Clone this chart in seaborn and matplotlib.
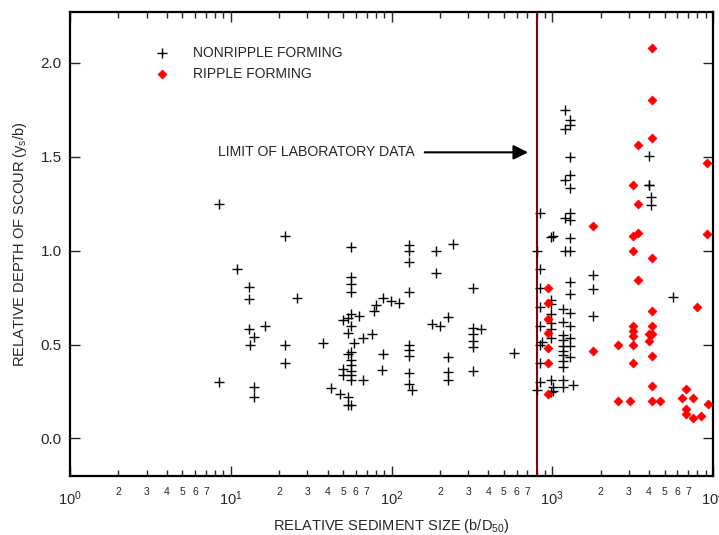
import numpy as np
import pandas as pd
import matplotlib
matplotlib.use("Agg")
import matplotlib.pyplot as plt
import matplotlib.ticker as mticker
import seaborn as sns

# ---------------- data ----------------
nonripple_x = [8.45, 8.45, 11.0, 12.9, 12.9, 12.9, 13.2, 14.0, 14.0, 14.0, 16.3,
               21.8, 21.8, 21.8, 25.9, 37.3, 41.9, 47.8,
               50.1, 50.1, 50.1, 53.8, 53.8, 53.8, 53.8, 53.8,
               56.0, 56.0, 56.0, 56.0, 56.0, 56.0, 56.0, 56.0, 56.0, 56.0, 56.0, 56.0, 56.0,
               58.7, 63.0, 66.8, 66.8, 76.0, 78.2, 80.1, 86.9, 88.9, 88.9, 99.3, 111,
               129, 129, 129, 129, 129, 129, 129, 129, 129, 135,
               179, 188, 188, 200, 224, 224, 224, 224, 241,
               321, 321, 321, 321, 321, 321, 360, 578,
               800, 805, 839, 839, 839, 839, 839, 839, 839, 839, 863,
               977, 977, 977, 977, 977, 977, 977, 977, 977,
               1016, 1016, 1016,
               1172, 1172, 1172, 1172, 1172, 1172, 1172, 1172, 1172, 1172, 1172,
               1200, 1200, 1200, 1200, 1200,
               1289, 1289, 1289, 1289, 1289, 1289, 1289, 1289, 1289, 1289, 1289, 1289,
               1289, 1289, 1289, 1289,
               1352, 1800, 1800, 1800, 3981, 4015, 4015, 4114, 4114, 5614]
nonripple_y = [1.25, 0.30, 0.90, 0.805, 0.74, 0.58, 0.50, 0.54, 0.275, 0.22, 0.60,
               1.08, 0.50, 0.40, 0.75, 0.51, 0.27, 0.235,
               0.63, 0.37, 0.34, 0.64, 0.56, 0.45, 0.22, 0.18,
               1.02, 0.86, 0.82, 0.78, 0.66, 0.60, 0.46, 0.42, 0.39, 0.36, 0.34, 0.31, 0.18,
               0.51, 0.65, 0.535, 0.31, 0.555, 0.68, 0.71, 0.363, 0.75, 0.45, 0.73, 0.72,
               1.03, 1.00, 0.94, 0.78, 0.50, 0.47, 0.44, 0.35, 0.29, 0.257,
               0.61, 1.00, 0.88, 0.60, 0.645, 0.434, 0.351, 0.31, 1.035,
               0.80, 0.588, 0.558, 0.518, 0.487, 0.36, 0.585, 0.455,
               0.26, 1.00, 1.20, 0.90, 0.80, 0.70, 0.60, 0.50, 0.40, 0.30, 0.515,
               1.07, 0.735, 0.718, 0.665, 0.617, 0.58, 0.532, 0.31, 0.245,
               1.078, 0.274, 0.253,
               0.688, 0.62, 0.553, 0.523, 0.491, 0.464, 0.443, 0.413, 0.381, 0.31, 0.274,
               1.75, 1.649, 1.374, 1.176, 1.00,
               1.697, 1.666, 1.498, 1.40, 1.333, 1.20, 1.161, 1.067, 1.00, 0.833, 0.768, 0.668,
               0.597, 0.532, 0.493, 0.434,
               0.283, 0.869, 0.798, 0.65, 1.505, 1.351, 1.351, 1.285, 1.245, 0.753]

ripple_x = [937, 937, 937, 937, 937, 937, 937,
            1800, 1800, 2577, 2577, 3047,
            3163, 3163, 3163, 3163, 3163, 3163, 3163, 3163,
            3430, 3430, 3430, 3430, 4020, 4020,
            4175, 4175, 4175, 4175, 4175, 4175, 4175, 4175, 4175, 4175,
            4680, 6440, 6790, 6790, 6790, 7480, 7480, 7990, 8380, 9140, 9140, 9310]
ripple_y = [0.80, 0.72, 0.638, 0.56, 0.479, 0.399, 0.239,
            1.133, 0.466, 0.50, 0.198, 0.198,
            1.349, 1.076, 0.998, 0.599, 0.572, 0.546, 0.50, 0.399,
            1.564, 1.25, 1.094, 0.842, 0.558, 0.519,
            2.08, 1.80, 1.60, 0.961, 0.679, 0.599, 0.558, 0.44, 0.28, 0.198,
            0.198, 0.215, 0.265, 0.154, 0.128, 0.216, 0.108, 0.698, 0.118, 1.468, 1.09, 0.182]

series_labels = ["NONRIPPLE FORMING", "RIPPLE FORMING"]
lab_limit = 800
y_ticks = [0.0, 0.5, 1.0, 1.5, 2.0]

# ---------------- style ----------------
sns.set_style("ticks")
plt.rcParams["font.family"] = ["Liberation Sans", "DejaVu Sans"]
plt.rcParams["mathtext.fontset"] = "custom"
plt.rcParams["mathtext.rm"] = "Liberation Sans"
plt.rcParams["mathtext.it"] = "Liberation Sans"

fig = plt.figure(figsize=(7.19, 5.35), dpi=100)
ax = fig.add_axes([70 / 719, 1 - 476 / 535, 643 / 719, 464 / 535])
ax.set_xscale("log")

df_n = pd.DataFrame({"x": nonripple_x, "y": nonripple_y})
df_r = pd.DataFrame({"x": ripple_x, "y": ripple_y})

sns.scatterplot(data=df_n, x="x", y="y", marker="+", color="black", s=44,
                linewidth=1.0, ax=ax, label=series_labels[0], zorder=3)
sns.scatterplot(data=df_r, x="x", y="y", marker="D", color="#ff0000", s=20,
                edgecolor="#ff0000", linewidth=0.6, ax=ax, label=series_labels[1], zorder=3)

ax.axvline(lab_limit, color="#8b0000", lw=1.5, zorder=2)

ax.annotate("", xy=(707, 1.523), xytext=(161, 1.523),
            arrowprops=dict(arrowstyle="-|>", color="black", lw=1.5, mutation_scale=22,
                            shrinkA=0, shrinkB=0))
ax.text(8.33, 1.523, "LIMIT OF LABORATORY DATA", fontsize=10.2, va="center", ha="left")

ax.set_xlim(1, 1e4)
ax.set_ylim(-0.2, 2.27)

ax.xaxis.set_major_locator(mticker.LogLocator(base=10, numticks=10))
ax.xaxis.set_major_formatter(mticker.LogFormatterMathtext())
ax.xaxis.set_minor_locator(mticker.LogLocator(base=10, subs=np.arange(2, 10), numticks=20))


def minor_fmt(v, pos):
    m = int(round(v / 10 ** np.floor(np.log10(v) + 1e-9)))
    return str(m) if 2 <= m <= 7 else ""


ax.xaxis.set_minor_formatter(mticker.FuncFormatter(minor_fmt))
ax.set_yticks(y_ticks)
ax.yaxis.set_major_formatter(mticker.FormatStrFormatter("%.1f"))

ax.tick_params(axis="x", which="major", direction="in", length=7, width=1,
               top=True, bottom=True, labelsize=10.5, pad=10)
ax.tick_params(axis="x", which="minor", direction="in", length=4, width=1,
               top=True, bottom=True, labelsize=7.5, pad=8)
ax.tick_params(axis="y", which="major", direction="in", length=7, width=1,
               left=True, right=True, labelsize=11, pad=6)

for s in ax.spines.values():
    s.set_linewidth(1.6)
    s.set_color("black")

ax.set_xlabel("RELATIVE SEDIMENT SIZE (b/D$_{50}$)", fontsize=10.5, labelpad=6)
ax.set_ylabel("RELATIVE DEPTH OF SCOUR (y$_s$/b)", fontsize=10.5, labelpad=8)

leg = ax.legend(loc="upper left", bbox_to_anchor=(73 / 643, 1 - 28 / 464), frameon=False,
                fontsize=10, handletextpad=1.2, borderaxespad=0, labelspacing=0.5,
                markerscale=1.0)

fig.savefig("out.png", dpi=100)
